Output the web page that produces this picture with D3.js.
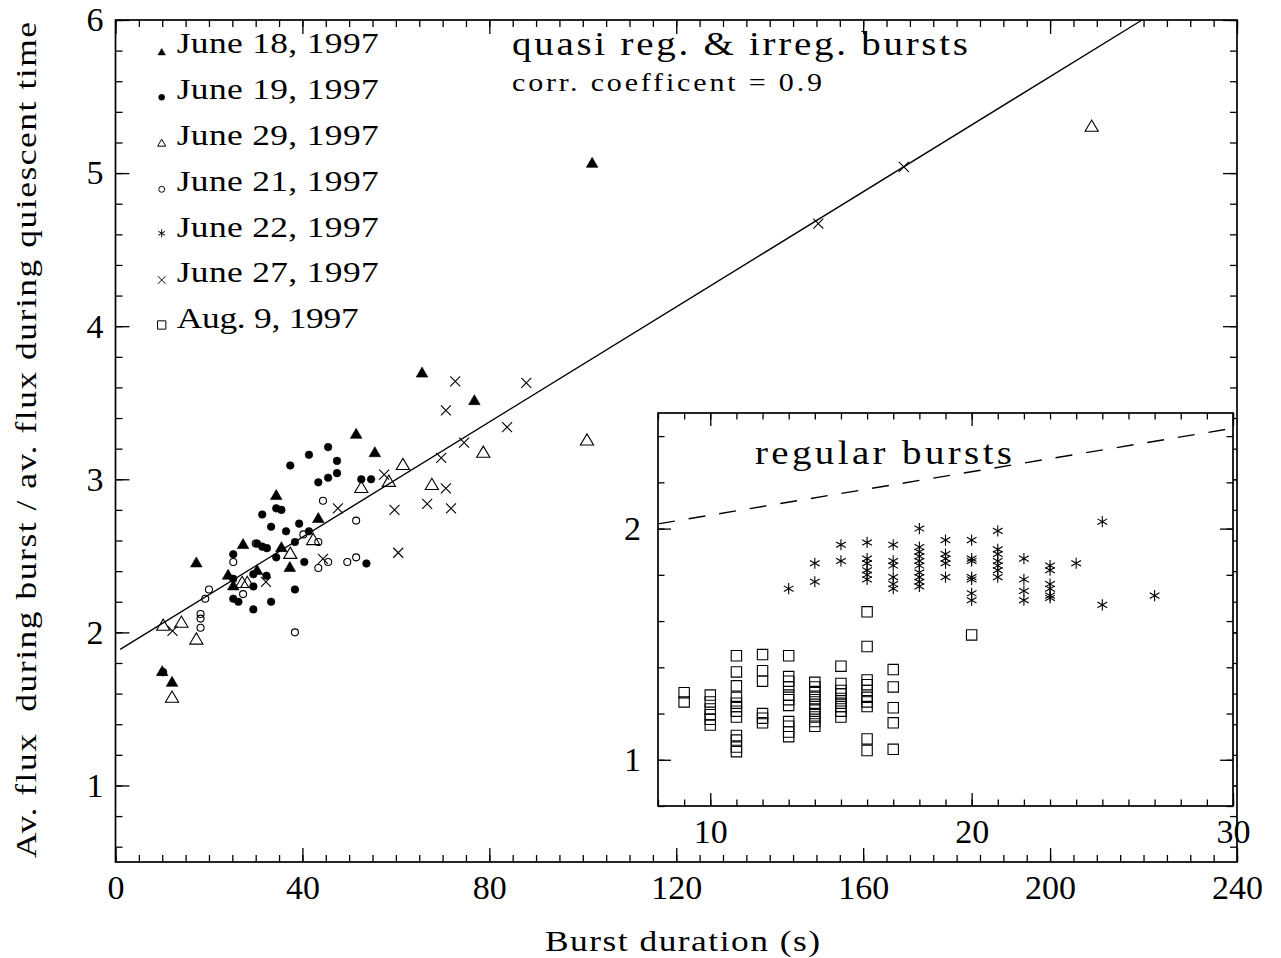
<!DOCTYPE html>
<html>
<head>
<meta charset="utf-8">
<script src="https://cdn.jsdelivr.net/npm/d3@7"></script>
<style>
  html, body { margin: 0; padding: 0; background: #fff; }
  svg { display: block; }
  text { font-family: "Liberation Serif", "Times New Roman", serif; fill: #000; }
</style>
</head>
<body>
<svg id="chart" width="1281" height="958"></svg>
<script>
// ---- Data: [burst duration (s), flux ratio] ----
const june18 = [[102.0,5.07],[65.6,3.70],[76.8,3.52],[51.5,3.30],[55.5,3.18],[34.4,2.90],[43.4,2.75],
  [27.3,2.58],[17.3,2.46],[35.5,2.56],[30.3,2.41],[24.1,2.38],[25.2,2.31],[37.3,2.43],[10.0,1.75],[12.1,1.68]];
const june19 = [[37.4,3.09],[41.4,3.16],[45.5,3.21],[47.4,3.12],[47.4,3.04],[45.5,3.01],[43.4,2.98],
  [52.6,3.00],[54.7,3.00],[34.4,2.81],[35.5,2.80],[31.4,2.77],[33.3,2.69],[36.5,2.66],[39.3,2.71],
  [41.4,2.66],[30.3,2.58],[31.4,2.56],[32.4,2.55],[38.4,2.59],[34.4,2.49],[25.2,2.51],[25.2,2.35],
  [29.5,2.38],[32.3,2.37],[29.5,2.30],[25.2,2.22],[26.3,2.20],[29.5,2.15],[33.3,2.20],[38.4,2.28],
  [40.4,2.46],[10.2,1.74],[53.7,2.45]];
const june29 = [[208.9,5.31],[100.9,3.26],[78.7,3.18],[61.5,3.10],[58.5,2.99],[67.7,2.97],[52.6,2.95],
  [42.3,2.61],[37.4,2.52],[27.1,2.33],[28.2,2.33],[10.2,2.05],[14.1,2.07],[17.3,1.96],[12.1,1.58]];
const june21 = [[44.4,2.86],[51.5,2.73],[40.2,2.64],[43.4,2.59],[25.2,2.46],[43.4,2.42],[45.5,2.46],
  [49.6,2.46],[51.5,2.49],[27.3,2.25],[38.4,2.00],[20.0,2.28],[19.2,2.22],[18.2,2.12],[18.2,2.09],
  [18.2,2.03],[30.0,2.58]];
const june27 = [[150.4,4.67],[168.7,5.04],[72.7,3.64],[87.9,3.63],[70.7,3.45],[83.8,3.34],[74.6,3.24],
  [69.7,3.14],[57.5,3.03],[70.7,2.94],[59.7,2.80],[66.7,2.84],[71.8,2.81],[60.5,2.52],[47.6,2.81],
  [32.2,2.33],[44.4,2.48],[12.2,2.01]];

// Regular bursts (inset)
const june22Regular = [[13,1.74],[14,1.85],[14,1.77],[15,1.93],[15,1.86],
  [16,1.94],[16,1.87],[16,1.85],[16,1.82],[16,1.80],[16,1.78],
  [17,1.93],[17,1.86],[17,1.84],[17,1.79],[17,1.76],[17,1.74],
  [18,2.00],[18,1.92],[18,1.90],[18,1.88],[18,1.86],[18,1.84],[18,1.81],[18,1.79],[18,1.77],[18,1.75],
  [19,1.95],[19,1.89],[19,1.87],[19,1.85],[19,1.79],
  [20,1.95],[20,1.87],[20,1.86],[20,1.79],[20,1.78],[20,1.72],[20,1.69],
  [21,1.99],[21,1.91],[21,1.89],[21,1.86],[21,1.84],[21,1.82],[21,1.79],
  [22,1.87],[22,1.78],[22,1.73],[22,1.69],
  [23,1.84],[23,1.82],[23,1.76],[23,1.74],[23,1.71],[23,1.70],
  [24,1.85],[25,2.03],[25,1.67],[27,1.71]];
const aug9Regular = [[9,1.29],[9,1.25],
  [10,1.28],[10,1.25],[10,1.22],[10,1.195],[10,1.175],[10,1.15],
  [11,1.45],[11,1.38],[11,1.32],[11,1.27],[11,1.245],[11,1.23],[11,1.21],[11,1.185],[11,1.105],[11,1.085],[11,1.055],[11,1.035],
  [12,1.455],[12,1.385],[12,1.34],[12,1.20],[12,1.18],[12,1.16],
  [13,1.45],[13,1.36],[13,1.34],[13,1.315],[13,1.28],[13,1.26],[13,1.235],[13,1.165],[13,1.145],[13,1.12],[13,1.10],
  [14,1.335],[14,1.315],[14,1.295],[14,1.275],[14,1.26],[14,1.24],[14,1.22],[14,1.20],[14,1.185],[14,1.165],[14,1.145],
  [15,1.405],[15,1.33],[15,1.30],[15,1.285],[15,1.265],[15,1.245],[15,1.23],[15,1.21],[15,1.185],
  [16,1.64],[16,1.49],[16,1.345],[16,1.325],[16,1.30],[16,1.27],[16,1.25],[16,1.23],[16,1.09],[16,1.04],
  [17,1.39],[17,1.315],[17,1.225],[17,1.16],[17,1.045],
  [20,1.54]];

// Linear fit (corr. coefficient 0.9)
const fitIntercept = 1.87;
const fitSlope = 0.0188;

// Tick values
const xMajorMain = [0, 40, 80, 120, 160, 200, 240];
const xMinorMain = d3.range(0, 241, 5);
const yMajorMain = [1, 2, 3, 4, 5, 6];
const yMinorMain = d3.range(6, 61, 2).map(v => v / 10);
const xMajorInset = [10, 20, 30];
const xMinorInset = d3.range(8, 31, 1);
const yMajorInset = [1, 2];
const yMinorInset = d3.range(8, 25, 2).map(v => v / 10);

const legendLabels = ["June 18, 1997", "June 19, 1997", "June 29, 1997", "June 21, 1997",
  "June 22, 1997", "June 27, 1997", "Aug. 9, 1997"];
const legendKinds = ["tri", "dot", "otri", "ocirc", "star", "cross", "square"];

// ---- Drawing ----
const svg = d3.select("#chart");
svg.append("rect").attr("width", 1281).attr("height", 958).attr("fill", "#fff");

const x = d3.scaleLinear().domain([0, 240]).range([115.5, 1237]);
const y = d3.scaleLinear().domain([0.5, 6]).range([862, 20]);
const xi = d3.scaleLinear().domain([8, 30]).range([658, 1233]);
const yi = d3.scaleLinear().domain([0.8, 2.5]).range([806, 413]);

function markerPath(kind, s) {
  const p = d3.path();
  switch (kind) {
    case "tri": { const w = 5.8 * s, h = 5 * s; p.moveTo(-w, h); p.lineTo(w, h); p.lineTo(0, -h); p.closePath(); break; }
    case "otri": { const w = 6.6 * s, h = 5.6 * s; p.moveTo(-w, h); p.lineTo(w, h); p.lineTo(0, -h); p.closePath(); break; }
    case "dot": { p.moveTo(3.8 * s, 0); p.arc(0, 0, 3.8 * s, 0, 2 * Math.PI); break; }
    case "ocirc": { p.moveTo(3.5 * s, 0); p.arc(0, 0, 3.5 * s, 0, 2 * Math.PI); break; }
    case "cross": { const r = 5 * s; p.moveTo(-r, -r); p.lineTo(r, r); p.moveTo(-r, r); p.lineTo(r, -r); break; }
    case "square": { const r = 5.2 * s; p.rect(-r, -r, 2 * r, 2 * r); break; }
    case "star": {
      const r = 5.6 * s, c = r * Math.cos(Math.PI / 6), d = r * Math.sin(Math.PI / 6);
      p.moveTo(0, -r); p.lineTo(0, r);
      p.moveTo(-c, -d); p.lineTo(c, d);
      p.moveTo(-c, d); p.lineTo(c, -d);
      break;
    }
  }
  return p.toString();
}
const filled = k => k === "tri" || k === "dot";

function drawSeries(g, data, kind, xs, ys, s) {
  g.append("g").selectAll("path").data(data).join("path")
    .attr("d", markerPath(kind, s))
    .attr("transform", d => `translate(${xs(d[0])},${ys(d[1])})`)
    .attr("fill", filled(kind) ? "#000" : "none")
    .attr("stroke", "#000")
    .attr("stroke-width", filled(kind) ? 0.6 : 1.1);
}

function drawAxes(g, xs, ys, o) {
  const [x0, x1] = xs.range();
  const [y0, y1] = ys.range();
  const sides = [
    { make: d3.axisBottom, sc: xs, t: `translate(0,${y0})`, major: o.xMajor, minor: o.xMinor, labels: true, pad: o.xPad },
    { make: d3.axisTop, sc: xs, t: `translate(0,${y1})`, major: o.xMajor, minor: o.xMinor, labels: false, pad: 0 },
    { make: d3.axisLeft, sc: ys, t: `translate(${x0},0)`, major: o.yMajor, minor: o.yMinor, labels: true, pad: o.yPad },
    { make: d3.axisRight, sc: ys, t: `translate(${x1},0)`, major: o.yMajor, minor: o.yMinor, labels: false, pad: 0 }
  ];
  sides.forEach(sd => {
    const minor = g.append("g").attr("transform", sd.t)
      .call(sd.make(sd.sc).tickValues(sd.minor).tickSize(-o.minorLen).tickSizeOuter(0).tickFormat(""));
    minor.select(".domain").remove();
    const major = g.append("g").attr("transform", sd.t)
      .call(sd.make(sd.sc).tickValues(sd.major).tickSize(-o.majorLen).tickSizeOuter(0)
        .tickPadding(sd.pad).tickFormat(sd.labels ? d3.format("d") : ""));
    major.select(".domain").remove();
    major.selectAll("text").attr("font-size", o.fontSize)
      .attr("font-family", '"Liberation Serif", "Times New Roman", serif').attr("fill", "#000");
    g.selectAll(".tick line").attr("stroke", "#000").attr("stroke-width", 1.3);
  });
  g.append("rect").attr("x", x0).attr("y", y1).attr("width", x1 - x0).attr("height", y0 - y1)
    .attr("fill", "none").attr("stroke", "#000").attr("stroke-width", 1.7);
}

// Text with slightly widened glyphs, spaced out to a given run length
function label(g, px, py, size, len, str, rot, sx) {
  const k = sx || 1.18;
  const t = g.append("g")
    .attr("transform", `translate(${px},${py})${rot ? " rotate(-90)" : ""} scale(${k},1)`)
    .append("text").attr("x", 0).attr("y", 0).attr("font-size", size)
    .attr("textLength", len / k).attr("lengthAdjust", "spacing").style("white-space", "pre").text(str);
  return t;
}

// Main panel
const main = svg.append("g");
drawAxes(main, x, y, { xMajor: xMajorMain, xMinor: xMinorMain, yMajor: yMajorMain, yMinor: yMinorMain,
  majorLen: 14, minorLen: 7, xPad: 13, yPad: 12, fontSize: 34 });

// Fitted relation, from x = 1 s up to the top of the panel
const xTop = (6 - fitIntercept) / fitSlope;
const fitLine = d3.line().x(d => x(d)).y(d => y(fitIntercept + fitSlope * d));
main.append("path").attr("d", fitLine([1, xTop])).attr("fill", "none")
  .attr("stroke", "#000").attr("stroke-width", 1.4);

drawSeries(main, june21, "ocirc", x, y, 1);
drawSeries(main, june29, "otri", x, y, 1);
drawSeries(main, june27, "cross", x, y, 1);
drawSeries(main, june19, "dot", x, y, 1);
drawSeries(main, june18, "tri", x, y, 1);

// Legend
const legendBase = [53, 99, 145, 191, 237, 282, 328];
const legendMarkY = [51.7, 97.3, 142.7, 189.3, 233.3, 280, 325];
const legend = svg.append("g");
legendLabels.forEach((lab, i) => {
  const k = legendKinds[i];
  const s = { tri: 0.65, dot: 0.8, otri: 0.62, ocirc: 0.85, star: 0.7, cross: 0.75, square: 0.8 }[k];
  legend.append("path").attr("d", markerPath(k, s))
    .attr("transform", `translate(161.7,${legendMarkY[i]})`)
    .attr("fill", filled(k) ? "#000" : "none").attr("stroke", "#000")
    .attr("stroke-width", filled(k) ? 0.5 : 1);
  label(legend, 176.7, legendBase[i], 30, i === 6 ? 182 : 202, lab);
});

label(svg, 512, 55, 33, 456, "quasi reg. & irreg. bursts");
label(svg, 512, 91, 25, 310, "corr. coefficent = 0.9", false, 1.2);

// Axis titles
label(svg, 545, 951, 30, 275, "Burst duration (s)");
label(svg, 36, 858, 30, 836, "Av. flux  during burst / av. flux during quiescent time", true);

// Inset panel: regular bursts
const inset = svg.append("g");
inset.append("rect").attr("x", 658).attr("y", 413).attr("width", 575).attr("height", 393).attr("fill", "#fff");
drawAxes(inset, xi, yi, { xMajor: xMajorInset, xMinor: xMinorInset, yMajor: yMajorInset, yMinor: yMinorInset,
  majorLen: 13, minorLen: 6.5, xPad: 13, yPad: 17, fontSize: 34 });

const fitLineInset = d3.line().x(d => xi(d)).y(d => yi(fitIntercept + fitSlope * d));
inset.append("path").attr("d", fitLineInset([8, 30])).attr("fill", "none")
  .attr("stroke", "#000").attr("stroke-width", 1.4).attr("stroke-dasharray", "17,14");

drawSeries(inset, aug9Regular, "square", xi, yi, 1);
drawSeries(inset, june22Regular, "star", xi, yi, 1);

label(inset, 755, 464, 33, 257, "regular bursts");
</script>
</body>
</html>
